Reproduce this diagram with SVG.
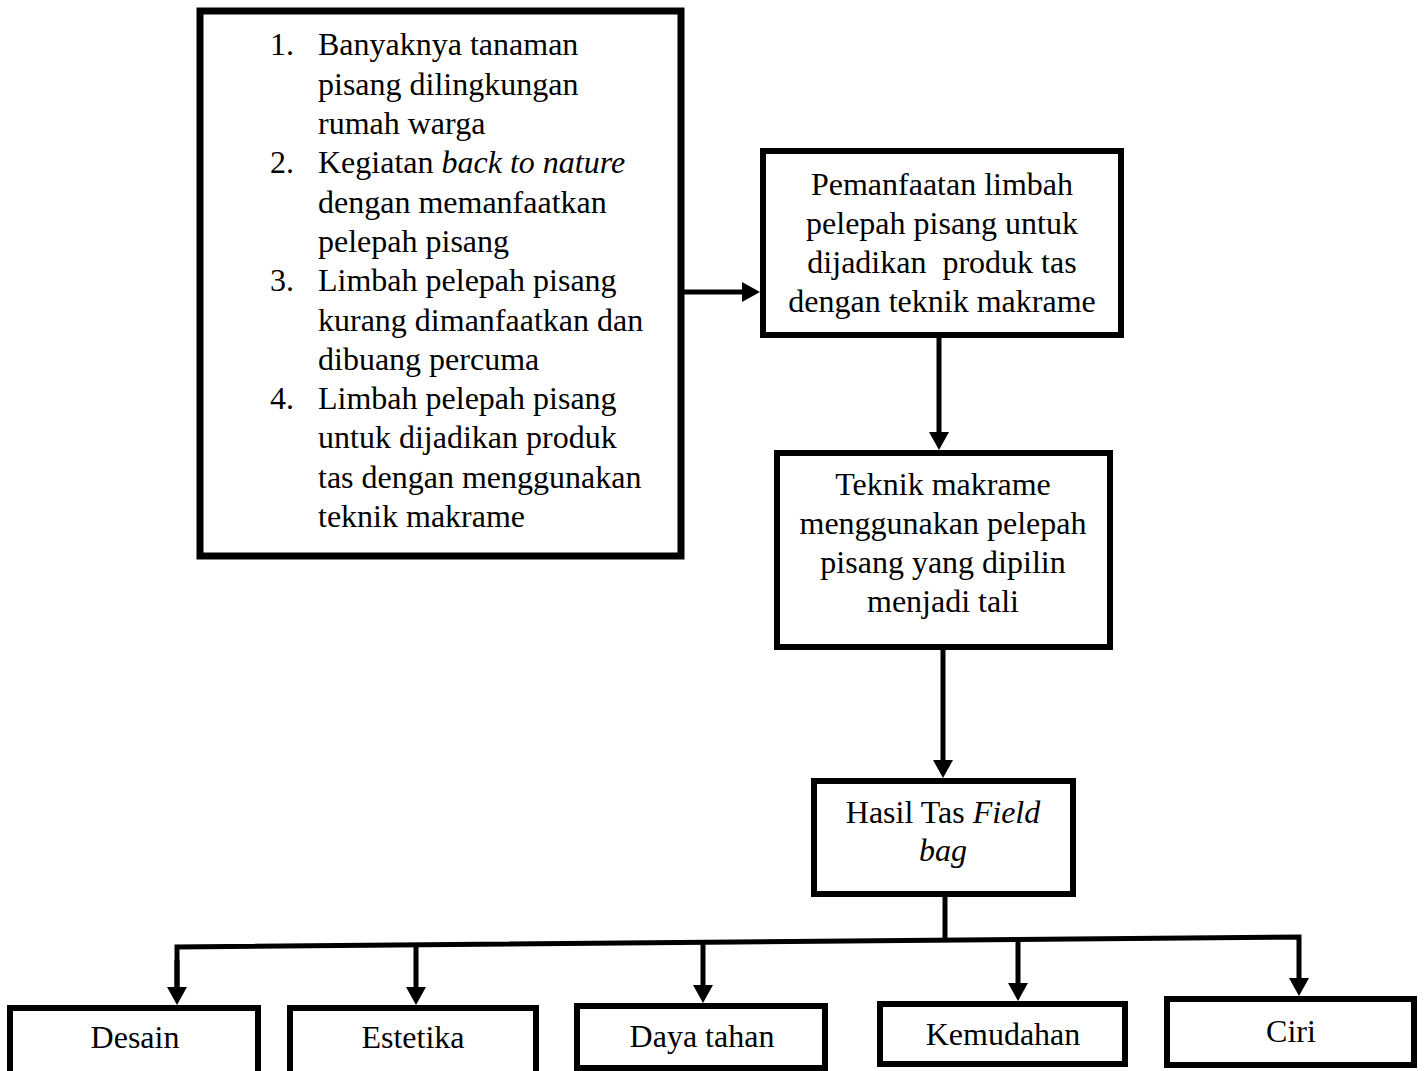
<svg xmlns="http://www.w3.org/2000/svg" width="1424" height="1071" viewBox="0 0 1424 1071">
<style>
  .box { fill: #ffffff; stroke: #000000; stroke-width: 6; }
  .big { stroke-width: 7; }
  .t { font-family: "Liberation Serif", "Times New Roman", serif; font-size: 32px; fill: #000000; }
  .c { text-anchor: middle; }
  .i { font-style: italic; }
  .conn { fill: none; stroke: #000000; stroke-width: 5; }
</style>
<defs>
  <marker id="arr" viewBox="0 0 18 20" markerWidth="18" markerHeight="20" refX="2" refY="10" orient="auto" markerUnits="userSpaceOnUse">
    <path d="M0,0 L18,10 L0,20 z" fill="#000000"/>
  </marker>
</defs>
<rect width="1424" height="1071" fill="#ffffff"/>

<g id="connectors">
  <line class="conn" x1="684" y1="292" x2="744" y2="292" marker-end="url(#arr)"/>
  <line class="conn" x1="939" y1="338" x2="939" y2="434" marker-end="url(#arr)"/>
  <line class="conn" x1="943" y1="650" x2="943" y2="762" marker-end="url(#arr)"/>
  <line class="conn" x1="945" y1="897" x2="945" y2="941"/>
  <polyline class="conn" points="177,989 177,947 1299,937 1299,980" marker-end="url(#arr)"/>
  <line class="conn" x1="177" y1="960" x2="177" y2="989" marker-end="url(#arr)"/>
  <line class="conn" x1="416" y1="944" x2="416" y2="989" marker-end="url(#arr)"/>
  <line class="conn" x1="703" y1="942" x2="703" y2="987" marker-end="url(#arr)"/>
  <line class="conn" x1="1018" y1="940" x2="1018" y2="985" marker-end="url(#arr)"/>
</g>

<g id="node-list">
  <rect class="box big" x="200" y="11" width="481" height="545"/>
  <text class="t" x="270" y="55">1.</text>
  <text class="t" x="318" y="55">Banyaknya tanaman</text>
  <text class="t" x="318" y="94.5">pisang dilingkungan</text>
  <text class="t" x="318" y="134">rumah warga</text>
  <text class="t" x="270" y="173.3">2.</text>
  <text class="t" x="318" y="173.3">Kegiatan <tspan class="i">back to nature</tspan></text>
  <text class="t" x="318" y="212.6">dengan memanfaatkan</text>
  <text class="t" x="318" y="251.9">pelepah pisang</text>
  <text class="t" x="270" y="291.2">3.</text>
  <text class="t" x="318" y="291.2">Limbah pelepah pisang</text>
  <text class="t" x="318" y="330.5">kurang dimanfaatkan dan</text>
  <text class="t" x="318" y="369.8">dibuang percuma</text>
  <text class="t" x="270" y="409.1">4.</text>
  <text class="t" x="318" y="409.1">Limbah pelepah pisang</text>
  <text class="t" x="318" y="448.4">untuk dijadikan produk</text>
  <text class="t" x="318" y="487.7">tas dengan menggunakan</text>
  <text class="t" x="318" y="527">teknik makrame</text>
</g>

<g id="node-pemanfaatan">
  <rect class="box" x="763" y="151" width="358" height="184"/>
  <text class="t c" x="942" y="195">Pemanfaatan limbah</text>
  <text class="t c" x="942" y="234">pelepah pisang untuk</text>
  <text class="t c" x="942" y="273" xml:space="preserve">dijadikan  produk tas</text>
  <text class="t c" x="942" y="312">dengan teknik makrame</text>
</g>

<g id="node-teknik">
  <rect class="box" x="777" y="453" width="333" height="194"/>
  <text class="t c" x="943" y="495">Teknik makrame</text>
  <text class="t c" x="943" y="534">menggunakan pelepah</text>
  <text class="t c" x="943" y="573">pisang yang dipilin</text>
  <text class="t c" x="943" y="612">menjadi tali</text>
</g>

<g id="node-hasil">
  <rect class="box" x="814" y="781" width="259" height="113"/>
  <text class="t c" x="943" y="823">Hasil Tas <tspan class="i">Field</tspan></text>
  <text class="t c i" x="943" y="861">bag</text>
</g>

<g id="node-desain">
  <rect class="box" x="10" y="1008" width="248" height="68"/>
  <text class="t c" x="135" y="1048">Desain</text>
</g>
<g id="node-estetika">
  <rect class="box" x="290" y="1008" width="246" height="68"/>
  <text class="t c" x="413" y="1048">Estetika</text>
</g>
<g id="node-daya">
  <rect class="box" x="577" y="1006" width="248" height="62"/>
  <text class="t c" x="702" y="1047">Daya tahan</text>
</g>
<g id="node-kemudahan">
  <rect class="box" x="880" y="1004" width="245" height="60"/>
  <text class="t c" x="1003" y="1045">Kemudahan</text>
</g>
<g id="node-ciri">
  <rect class="box" x="1167" y="999" width="247" height="66"/>
  <text class="t c" x="1291" y="1042">Ciri</text>
</g>
</svg>
